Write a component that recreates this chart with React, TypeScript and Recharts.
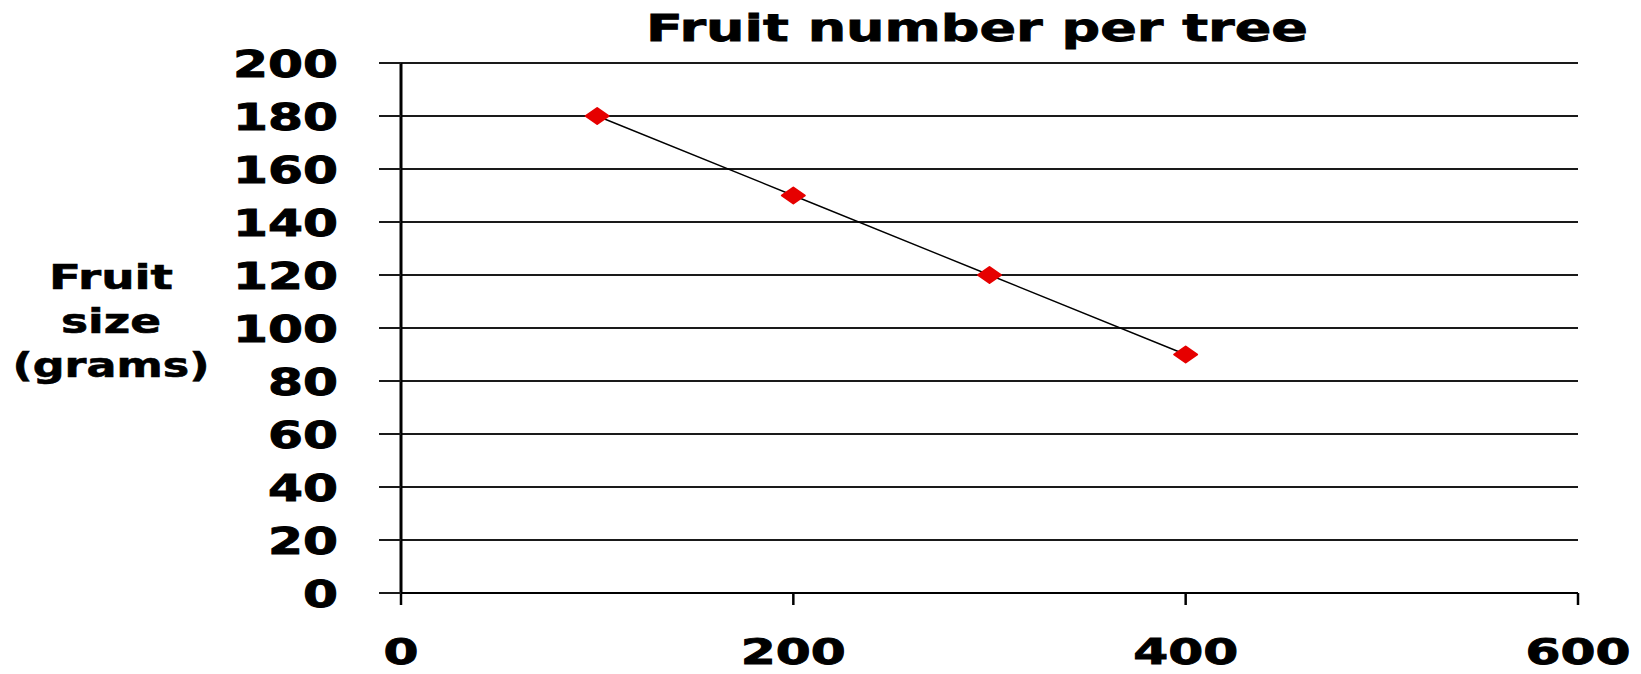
import React from 'react';
import { LineChart, Line, XAxis, YAxis, CartesianGrid, Customized } from 'recharts';

const fruitNumber = [100, 200, 300, 400];
const fruitSize = [180, 150, 120, 90];
const xTicks = [0, 200, 400, 600];
const yTicks = [0, 20, 40, 60, 80, 100, 120, 140, 160, 180, 200];
const titleText = 'Fruit number per tree';
const yLabelLines = ['Fruit', 'size', '(grams)'];

const data = fruitNumber.map((x, i) => ({ x, y: fruitSize[i] }));

const FONT = '"DejaVu Sans", Arial, sans-serif';
const CHAR_W = 35;

const YTick = (props: any) => {
  const { x, y, payload } = props;
  const s = String(payload.value);
  return (
    <text x={x - 39} y={y + 13.5} textAnchor="end" fontFamily={FONT} fontWeight="bold" fontSize={37} fill="#000"
      stroke="#000" strokeWidth={0.9}
      textLength={s.length * CHAR_W} lengthAdjust="spacingAndGlyphs">{s}</text>
  );
};

const XTick = (props: any) => {
  const { x, y, payload } = props;
  const s = String(payload.value);
  return (
    <text x={x} y={y + 57} textAnchor="middle" fontFamily={FONT} fontWeight="bold" fontSize={36} fill="#000"
      stroke="#000" strokeWidth={0.9}
      textLength={s.length * CHAR_W} lengthAdjust="spacingAndGlyphs">{s}</text>
  );
};

const Diamond = (props: any) => {
  const { cx, cy } = props;
  if (cx == null || cy == null) return null;
  const w = 11.5, h = 8;
  return (
    <polygon points={`${cx - w},${cy} ${cx},${cy - h} ${cx + w},${cy} ${cx},${cy + h}`}
      fill="#e60000" stroke="#e60000" strokeWidth={2} strokeLinejoin="round" />
  );
};

const Titles = () => (
  <g>
    <text x={646} y={41} fontFamily={FONT} fontWeight="bold" fontSize={38} fill="#000" stroke="#000" strokeWidth={0.8}
      textLength={662} lengthAdjust="spacingAndGlyphs">{titleText}</text>
    {yLabelLines.map((t, i) => (
      <text key={t} x={111} y={289 + i * 44} textAnchor="middle" fontFamily={FONT} fontWeight="bold" fontSize={33} fill="#000"
        stroke="#000" strokeWidth={0.6}
        textLength={[124, 100, 197][i]} lengthAdjust="spacingAndGlyphs">{t}</text>
    ))}
  </g>
);

export default function App() {
  return (
    <div style={{ position: 'absolute', left: 0, top: 0, background: '#fff' }}>
      <LineChart width={1641} height={674} data={data} margin={{ top: 63, right: 63, bottom: 0, left: 0 }}>
        <CartesianGrid horizontal vertical={false} stroke="#1a1a1a" strokeWidth={2} />
        <XAxis dataKey="x" type="number" domain={[0, 600]} ticks={xTicks} height={81}
          axisLine={{ stroke: '#000', strokeWidth: 2 }} tickLine={{ stroke: '#000', strokeWidth: 2.5 }} tickSize={12}
          tick={<XTick />} interval={0} />
        <YAxis dataKey="y" type="number" domain={[0, 200]} ticks={yTicks} width={401}
          axisLine={{ stroke: '#000', strokeWidth: 3 }} tickLine={{ stroke: '#1a1a1a', strokeWidth: 2 }} tickSize={22}
          tick={<YTick />} interval={0} />
        <Line dataKey="y" stroke="#000" strokeWidth={1.4} dot={<Diamond />} activeDot={false} isAnimationActive={false} />
        <Customized component={Titles} />
      </LineChart>
    </div>
  );
}
